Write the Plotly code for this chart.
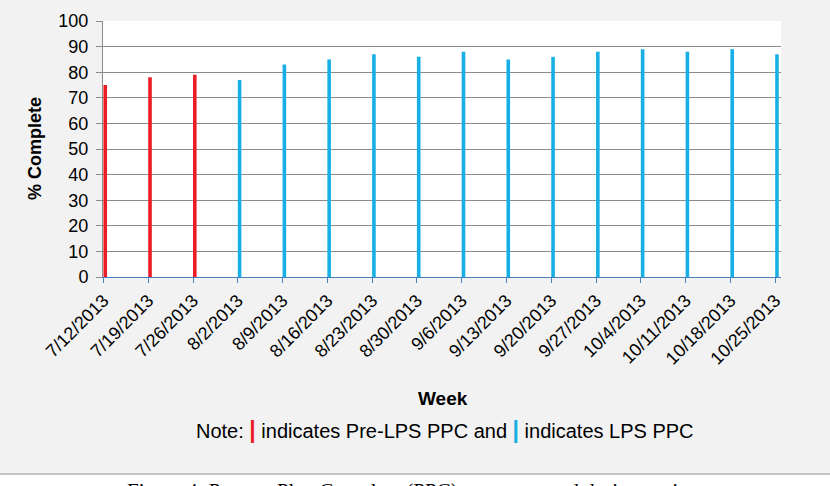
import plotly.graph_objects as go

weeks = ["7/12/2013", "7/19/2013", "7/26/2013", "8/2/2013", "8/9/2013", "8/16/2013",
         "8/23/2013", "8/30/2013", "9/6/2013", "9/13/2013", "9/20/2013", "9/27/2013",
         "10/4/2013", "10/11/2013", "10/18/2013", "10/25/2013"]
pre_weeks = weeks[:3]
pre_values = [75, 78, 79]
lps_weeks = weeks[3:]
lps_values = [77, 83, 85, 87, 86, 88, 85, 86, 88, 89, 88, 89, 87]
y_ticks = [0, 10, 20, 30, 40, 50, 60, 70, 80, 90, 100]

RED = "#ec1c24"
BLUE = "#17afe6"

W, H = 830, 486
L, R, T, B = 103, 49, 21, 209
plot_h = H - T - B

def py(pix):
    return (H - B - pix) / plot_h

def px(pix):
    return (pix - L) / (W - L - R)

fig = go.Figure()
fig.add_trace(go.Bar(x=pre_weeks, y=pre_values, marker_color=RED, width=0.08, offset=0,
                     marker_line_width=0, name="Pre-LPS PPC"))
fig.add_trace(go.Bar(x=lps_weeks, y=lps_values, marker_color=BLUE, width=0.08, offset=0,
                     marker_line_width=0, name="LPS PPC"))

bar_style = "font-size:23px;font-weight:bold;color:%s"

fig.update_layout(
    width=W, height=H,
    margin=dict(l=L, r=R, t=T, b=B, pad=0),
    paper_bgcolor="#f2f2f2",
    plot_bgcolor="#ffffff",
    showlegend=False,
    font=dict(family="Liberation Sans, Arial, sans-serif", color="#000000"),
    xaxis=dict(
        type="category", categoryorder="array", categoryarray=weeks,
        range=[-0.01, 15.13],
        showgrid=False, zeroline=False,
        showline=True, linecolor="#4a7ebb", linewidth=1,
        ticks="outside", ticklen=5, tickcolor="#4a7ebb", tickwidth=1,
        tickangle=-45, tickfont=dict(size=18),
    ),
    yaxis=dict(
        range=[0, 100], tickvals=y_ticks,
        showgrid=True, gridcolor="#8c8c8c", gridwidth=1.3,
        zeroline=False,
        showline=True, linecolor="#8c8c8c", linewidth=1,
        ticks="outside", ticklen=6, tickcolor="#8c8c8c",
        tickfont=dict(size=18), ticklabelstandoff=4,
    ),
    annotations=[
        dict(text="<b>% Complete</b>", xref="paper", yref="paper", x=px(35), y=py(149),
             textangle=-90, showarrow=False, font=dict(size=18), xanchor="center", yanchor="middle"),
        dict(text="<b>Week</b>", xref="paper", yref="paper", x=px(443), y=py(398),
             showarrow=False, font=dict(size=19), xanchor="center", yanchor="middle"),
        dict(text=("Note: <span style='%s'>|</span> indicates Pre-LPS PPC and "
                   "<span style='%s'>|</span> indicates LPS PPC") % (bar_style % RED, bar_style % BLUE),
             xref="paper", yref="paper", x=px(445), y=py(430),
             showarrow=False, font=dict(size=20), xanchor="center", yanchor="middle"),
        dict(text="Figure 4: Percent Plan Complete (PPC) report created during project",
             xref="paper", yref="paper", x=px(415), y=py(477),
             showarrow=False, font=dict(size=21, family="Liberation Serif, Times New Roman, serif"),
             xanchor="center", yanchor="top"),
    ],
    shapes=[
        dict(type="rect", xref="paper", yref="paper", x0=px(-5), x1=px(835), y0=py(474), y1=py(490),
             fillcolor="#ffffff", line_width=0, layer="below"),
        dict(type="line", xref="paper", yref="paper", x0=px(-5), x1=px(835), y0=py(474), y1=py(474),
             line=dict(color="#c4c4c4", width=2)),
    ],
)

fig.write_html("out.html")
